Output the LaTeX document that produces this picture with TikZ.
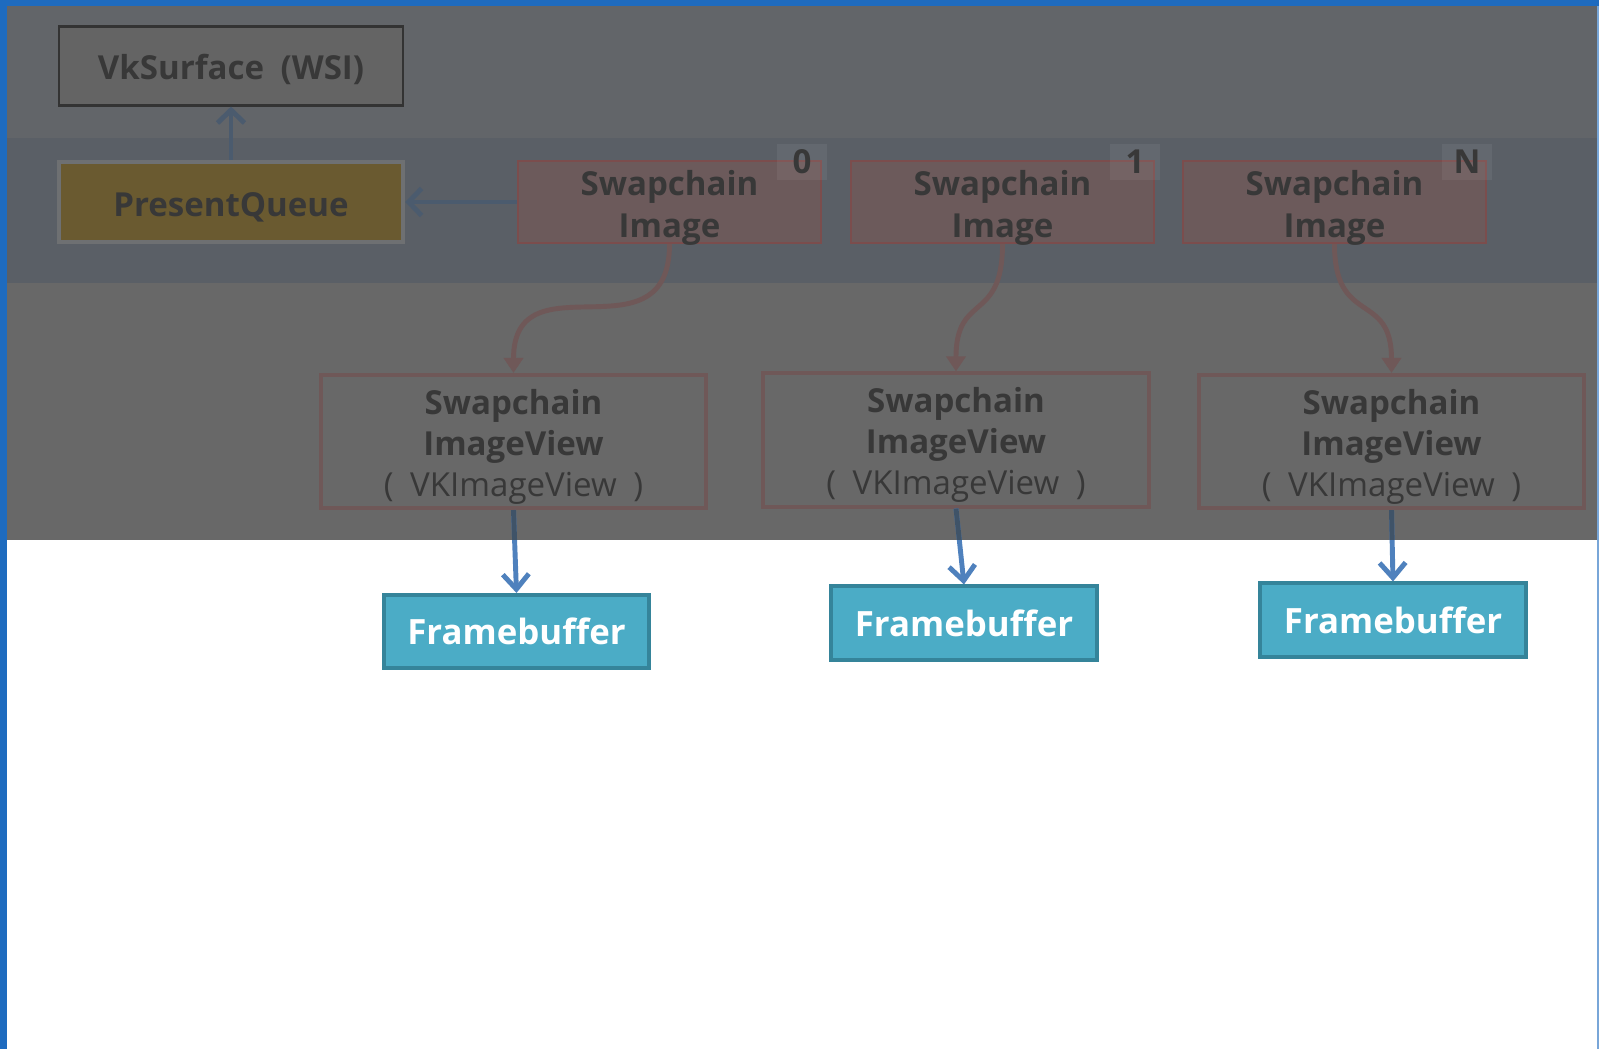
\documentclass[tikz,border=0pt]{standalone}
\usepackage{fontspec}
\setmainfont{Open Sans}
\usetikzlibrary{arrows.meta}
\definecolor{frameblue}{HTML}{1E6BBF}
\definecolor{bandtop}{HTML}{626569}
\definecolor{bandmid}{HTML}{5A5F66}
\definecolor{bandlow}{HTML}{686868}
\definecolor{surffill}{HTML}{646464}
\definecolor{surfline}{HTML}{333333}
\definecolor{queuefill}{HTML}{6A5A30}
\definecolor{queuehalo}{HTML}{6E7072}
\definecolor{imgfill}{HTML}{6C5A5B}
\definecolor{imgline}{HTML}{7B4D4D}
\definecolor{viewline}{HTML}{6F5858}
\definecolor{fbfill}{HTML}{4BACC6}
\definecolor{fbline}{HTML}{35849A}
\definecolor{fbarrow}{HTML}{4F81BD}
\definecolor{fbdim}{HTML}{3F5368}
\definecolor{linkcol}{HTML}{4B5B6E}
\definecolor{dimtext}{HTML}{383838}

\tikzstyle{every node}=[inner sep=0pt,align=center,font=\fontsize{9.4}{11.7}\selectfont]
\tikzstyle{surface}=[draw=surfline,line width=0.6pt,fill=surffill,text=dimtext,font=\bfseries\fontsize{9.4}{11.7}\selectfont,minimum width=3.44cm,minimum height=0.79cm]
\tikzstyle{queue}=[draw=queuehalo,line width=1.2pt,fill=queuefill,text=dimtext,font=\bfseries\fontsize{9.4}{11.7}\selectfont,minimum width=3.44cm,minimum height=0.8cm]
\tikzstyle{image}=[draw=imgline,line width=0.6pt,fill=imgfill,text=dimtext,font=\bfseries\fontsize{9.4}{11.7}\selectfont,minimum width=3.03cm,minimum height=0.82cm]
\tikzstyle{idxbox}=[fill=white,fill opacity=0.06,text opacity=1,text=dimtext,font=\bfseries\fontsize{9.4}{11.7}\selectfont,minimum width=0.5cm,minimum height=0.36cm]
\tikzstyle{view}=[draw=viewline,line width=1.14pt,text=dimtext,minimum width=3.85cm,minimum height=1.33cm]
\tikzstyle{fbuf}=[draw=fbline,line width=1.14pt,fill=fbfill,text=white,font=\bfseries\fontsize{9.9}{12}\selectfont,minimum width=2.65cm,minimum height=0.73cm]
\tikzstyle{link}=[draw=linkcol,line width=1.4pt,-{Straight Barb[length=0.13cm,width=0.27cm]}]
\tikzstyle{viewlink}=[draw=viewline,line width=1.4pt,-{Triangle[length=0.15cm,width=0.19cm]}]
\tikzstyle{fblink}=[draw=fbarrow,line width=1.4pt,-{Straight Barb[length=0.15cm,width=0.26cm]}]

% text set a little below the middle of its box
\newcommand{\lowtext}[2]{\raisebox{#1}[\height][\depth]{\begin{tabular}{@{}c@{}}#2\end{tabular}}}

\begin{document}
\begin{tikzpicture}[x=0.01cm,y=-0.01cm]
\useasboundingbox (0,0) rectangle (1599,1049);
% frame and shaded bands
\fill[white] (0,0) rectangle (1599,1049);
\fill[frameblue] (0,0) rectangle (7,1049);
\fill[frameblue] (0,0) rectangle (1599,6);
\fill[frameblue!60] (1597,6) rectangle (1599,1049);
\fill[bandtop] (7,6) rectangle (1597,138);
\fill[bandmid] (7,138) rectangle (1597,283);
\fill[bandlow] (7,283) rectangle (1597,540);

\node[surface] (surf) at (231,66) {\lowtext{-1.5pt}{VkSurface\enspace(WSI)}};
\node[queue] (queue) at (231,202) {\lowtext{-1.7pt}{PresentQueue}};
\foreach \i/\x/\n in {0/669.5/0, 1/1002.5/1, 2/1334.5/N}{
  \node[image] (img\i) at (\x,202) {\lowtext{-1.8pt}{Swapchain\\Image}};
  \node[idxbox] (idx\i) at ([xshift=-0.2cm,yshift=-0.02cm]img\i.north east) {\n};
}
\foreach \i/\x/\y/\fx/\fy in {0/513.5/441.5/516.5/631.5, 1/956/440/964/623, 2/1391.5/441.5/1393/620}{
  \node[view] (view\i) at (\x,\y) {\lowtext{-1.6pt}{\textbf{Swapchain}\\\textbf{ImageView}\\(\enspace VKImageView\enspace)}};
  \node[fbuf] (fb\i) at (\fx,\fy) {Framebuffer};
}

\draw[link] (img0.west) -- (queue.east);
\draw[link] (queue.north) -- (surf.south);
\foreach \i in {0,1,2}{
  \draw[viewlink] (img\i.south) to[out=-90,in=90,looseness=1.5] (view\i.north);
  \draw[fblink] (view\i.south) -- (fb\i.north);
}
% the part of each arrow still under the dark band
\begin{scope}
  \clip (7,283) rectangle (1597,540);
  \foreach \i in {0,1,2}
    \draw[fbdim,line width=1.4pt] (view\i.south) -- (fb\i.north);
\end{scope}
\end{tikzpicture}
\end{document}
